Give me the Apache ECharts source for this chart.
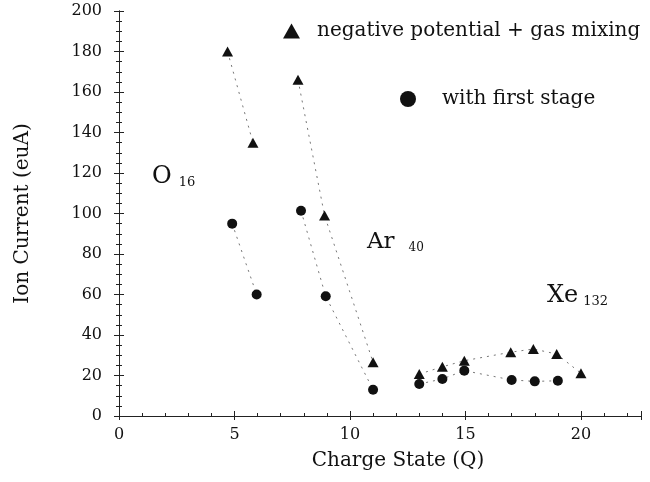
<!DOCTYPE html>
<html><head><meta charset="utf-8">
<script src="https://cdn.jsdelivr.net/npm/echarts@6/dist/echarts.min.js"></script>
<style>html,body{margin:0;padding:0;background:#fff}#c{width:650px;height:482px}</style>
</head><body><div id="c"></div>
<script>
// ---- data ----
const NAME_GAS = 'negative potential + gas mixing';
const NAME_FS = 'with first stage';
const xLabelTicks = [0, 5, 10, 15, 20];
// negative potential + gas mixing (triangles)
const oGasQ = [4.7, 5.8];          const oGasI = [180, 135];
const arGasQ = [7.75, 8.9, 11.0];  const arGasI = [166, 99, 26.5];
const xeGasQ = [13, 14, 14.95, 16.96, 17.94, 18.95, 20]; const xeGasI = [20.7, 24.3, 27.3, 31.5, 33.1, 30.6, 21.1];
// with first stage (circles)
const oFsQ = [4.9, 5.96];          const oFsI = [95, 60];
const arFsQ = [7.88, 8.95, 11.0];  const arFsI = [101.4, 59.1, 13];
const xeFsQ = [13, 14, 14.95, 17.0, 18.0, 19.0]; const xeFsI = [15.8, 18.3, 22.4, 17.8, 17.1, 17.4];

const FONT = 'DejaVu Serif';
const INK = '#111';
function pairs(q, v) { return q.map((x, i) => [x, v[i]]); }
function mk(name, q, v, sym, size) {
  return {
    name: name, type: 'line', data: pairs(q, v), symbol: sym, symbolSize: size,
    itemStyle: { color: INK }, lineStyle: { color: '#777', width: 1, type: [2, 5] },
    emphasis: { disabled: true }, z: 3
  };
}
const series = [
  mk(NAME_GAS, oGasQ, oGasI, 'triangle', [11, 10]),
  mk(NAME_GAS, arGasQ, arGasI, 'triangle', [11, 10]),
  mk(NAME_GAS, xeGasQ, xeGasI, 'triangle', [11, 10]),
  mk(NAME_FS, oFsQ, oFsI, 'circle', 10),
  mk(NAME_FS, arFsQ, arFsI, 'circle', 10),
  mk(NAME_FS, xeFsQ, xeFsI, 'circle', 10)
];

const axisLine = { show: true, lineStyle: { color: '#222', width: 1 } };
const chart = echarts.init(document.getElementById('c'));
chart.setOption({
  animation: false,
  backgroundColor: '#fff',
  grid: { left: 119, right: 9, top: 11, bottom: 66 },
  xAxis: [{
    type: 'value', min: 0, max: 22.6, interval: 5,
    axisLine: axisLine,
    axisTick: { show: true, inside: true, length: 5, lineStyle: { color: '#222' } },
    minorTick: { show: true, splitNumber: 5, length: 3, lineStyle: { color: '#222' } },
    splitLine: { show: false },
    axisLabel: { margin: 11, fontFamily: FONT, fontSize: 16, color: INK,
      formatter: v => xLabelTicks.indexOf(v) >= 0 ? String(v) : '' },
    name: 'Charge State (Q)', nameLocation: 'middle', nameGap: 35,
    nameTextStyle: { fontFamily: FONT, fontSize: 20, color: INK, padding: [0, 0, 0, 36] }
  }, {
    type: 'value', min: 0, max: 22.6, interval: 5, position: 'top',
    axisLine: axisLine,
    axisTick: { show: true, inside: true, length: 4, lineStyle: { color: '#222' } },
    axisLabel: { show: false }, splitLine: { show: false }
  }],
  yAxis: [{
    type: 'value', min: 0, max: 200, interval: 20,
    axisLine: axisLine,
    axisTick: { show: true, inside: true, length: 5, lineStyle: { color: '#222' } },
    minorTick: { show: true, splitNumber: 4, length: 3, lineStyle: { color: '#222' } },
    splitLine: { show: false },
    axisLabel: { margin: 17, fontFamily: FONT, fontSize: 16, color: INK },
    name: 'Ion Current (euA)', nameLocation: 'middle', nameGap: 86,
    nameTextStyle: { fontFamily: FONT, fontSize: 20, color: INK }
  }, {
    type: 'value', min: 0, max: 200, interval: 20, position: 'right',
    axisLine: axisLine,
    axisTick: { show: true, inside: true, length: 5, lineStyle: { color: '#222' } },
    minorTick: { show: true, splitNumber: 4, length: 3, lineStyle: { color: '#222' } },
    axisLabel: { show: false }, splitLine: { show: false }
  }],
  legend: [{
    data: [{ name: NAME_GAS, icon: 'triangle' }], selectedMode: false,
    left: 283, top: 21, padding: 0, itemWidth: 17, itemHeight: 15,
    textStyle: { fontFamily: FONT, fontSize: 20, color: INK, padding: [0, 0, 18, 12] }
  }, {
    data: [{ name: NAME_FS, icon: 'circle' }], selectedMode: false,
    left: 400, top: 89, padding: 0, itemWidth: 16, itemHeight: 16,
    textStyle: { fontFamily: FONT, fontSize: 20, color: INK, padding: [0, 0, 18, 21] }
  }],
  graphic: [
    { type: 'text', left: 152, top: 165, style: { text: '{a|O}{b|16}', rich: {
      a: { fontFamily: FONT, fontSize: 24, fill: INK },
      b: { fontFamily: FONT, fontSize: 13, fill: INK, padding: [0, 0, 0, 7], verticalAlign: 'bottom' } } } },
    { type: 'text', left: 367, top: 231, style: { text: '{a|Ar}{b|40}', rich: {
      a: { fontFamily: FONT, fontSize: 23, fill: INK },
      b: { fontFamily: FONT, fontSize: 12, fill: INK, padding: [0, 0, 0, 14], verticalAlign: 'bottom' } } } },
    { type: 'text', left: 547, top: 284, style: { text: '{a|Xe}{b|132}', rich: {
      a: { fontFamily: FONT, fontSize: 24, fill: INK },
      b: { fontFamily: FONT, fontSize: 13, fill: INK, padding: [0, 0, 0, 5], verticalAlign: 'bottom' } } } }
  ],
  series: series
});
</script>
</body></html>
